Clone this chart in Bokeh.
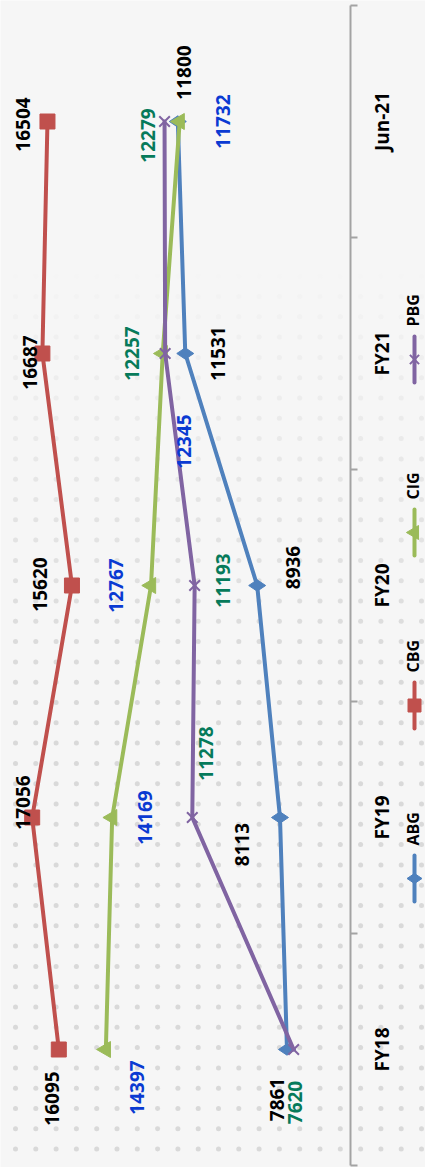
import math
import numpy as np
from bokeh.plotting import figure
from bokeh.models import Range1d
from bokeh.core.properties import value
from bokeh.embed import file_html
from bokeh.resources import INLINE

# ---- data -------------------------------------------------------------
periods = ["FY18", "FY19", "FY20", "FY21", "Jun-21"]
abg = [7861, 8113, 8936, 11531, 11800]
cbg = [16095, 17056, 15620, 16687, 16504]
cig = [14397, 14169, 12767, 12345, 11732]
pbg = [7620, 11278, 11193, 12257, 12279]
series_names = ["ABG", "CBG", "CIG", "PBG"]

# ---- styling ----------------------------------------------------------
W, H = 425, 1167
FONT = value("Open Sans")
line_colors = {"ABG": "#4F81BD", "CBG": "#C0504D", "CIG": "#9BBB59", "PBG": "#8064A2"}
label_colors = {"ABG": "#000000", "CBG": "#000000", "CIG": "#0A3AD2", "PBG": "#067A5A"}
markers = {"ABG": ("diamond", 17), "CBG": ("square", 15), "CIG": ("triangle", 16), "PBG": ("x", 15)}

# label offsets in screen pixels (dx right, dy down) for each point
label_dx = {"ABG": [-10, -38, 36, 33, 6], "CBG": [-7, -9, -32, -12, -24],
            "CIG": [31, 33, -35, 21, 43], "PBG": [1, 14, 28, -33, -17]}
label_dy = {"ABG": [50, 27, -18, 0, -49], "CBG": [49, -15, -1, 9, 3],
            "CIG": [38, 0, 0, 88, 0], "PBG": [53, -64, -5, 0, 14]}

values = {"ABG": abg, "CBG": cbg, "CIG": cig, "PBG": pbg}
pos = list(range(len(periods)))

p = figure(width=W, height=H,
           x_range=Range1d(18199, 2862), y_range=Range1d(-0.5086, 4.5216),
           output_backend="svg", toolbar_location=None,
           x_axis_location=None, y_axis_location=None, min_border=0)
p.grid.visible = False
p.outline_line_color = None
p.background_fill_color = "#f6f6f6"
p.border_fill_color = "#f6f6f6"
p.extra_x_ranges = {"px": Range1d(0, W)}
p.extra_y_ranges = {"px": Range1d(H, 0)}

# dotted backdrop, fading out towards the top
gx, gy = np.meshgrid(np.arange(15, W, 20.3), np.arange(905 - 20.3 * 40, H, 20.3))
gx, gy = gx.ravel(), gy.ravel()
keep = gy > 260
gx, gy = gx[keep], gy[keep]
ga = np.clip((gy - 260) / 420.0, 0, 1) * 0.95
p.scatter(gx, gy, size=5, marker="circle", fill_color="#d7d7d7", line_color=None,
          fill_alpha=ga, x_range_name="px", y_range_name="px")

# category axis (line + ticks) and its labels
edges = [i - 0.5 for i in range(len(periods) + 1)]
p.segment(x0=[350], y0=[edges[0]], x1=[350], y1=[edges[-1]],
          line_color="#a3a3a3", line_width=2, x_range_name="px")
p.segment(x0=[350] * len(edges), y0=edges, x1=[357] * len(edges), y1=edges,
          line_color="#a3a3a3", line_width=2, x_range_name="px")
p.text(x=[381] * len(periods), y=pos, text=periods, angle=math.pi / 2,
       text_align="center", text_baseline="middle", text_font=FONT,
       text_font_style="bold", text_font_size="19px", text_color="#000000",
       x_range_name="px")

# series lines with markers
for name in series_names:
    vals = values[name]
    col = line_colors[name]
    p.line(vals, pos, line_color=col, line_width=4, line_join="round", line_cap="round")
    mk, sz = markers[name]
    if mk == "x":
        p.scatter(vals, pos, marker="x", size=sz, line_color=col, line_width=2)
    else:
        p.scatter(vals, pos, marker=mk, size=sz, fill_color=col, line_color=col,
                  angle=math.pi / 2)

# value labels
for name in series_names:
    vals = values[name]
    p.text(x=vals, y=pos, text=[str(v) for v in vals], angle=math.pi / 2,
           x_offset=label_dx[name], y_offset=label_dy[name],
           text_align="center", text_baseline="middle", text_font=FONT,
           text_font_style="bold", text_font_size="19px",
           text_color=label_colors[name])

# legend, stacked along the right edge
for k, name in enumerate(series_names):
    top = 855 - 173 * k
    col = line_colors[name]
    p.segment(x0=[414], y0=[top], x1=[414], y1=[top + 46], line_color=col,
              line_width=4, line_cap="round", x_range_name="px", y_range_name="px")
    mk, sz = markers[name]
    if mk == "x":
        p.scatter([414], [top + 23], marker="x", size=sz - 2, line_color=col,
                  line_width=2, x_range_name="px", y_range_name="px")
    else:
        p.scatter([414], [top + 23], marker=mk, size=sz - 2, fill_color=col,
                  line_color=col, angle=math.pi / 2,
                  x_range_name="px", y_range_name="px")
    p.text(x=[412], y=[top - 10], text=[name], angle=math.pi / 2,
           text_align="left", text_baseline="middle", text_font=FONT,
           text_font_style="bold", text_font_size="16px", text_color="#000000",
           x_range_name="px", y_range_name="px")

open("out.html", "w").write(file_html(p, INLINE))
